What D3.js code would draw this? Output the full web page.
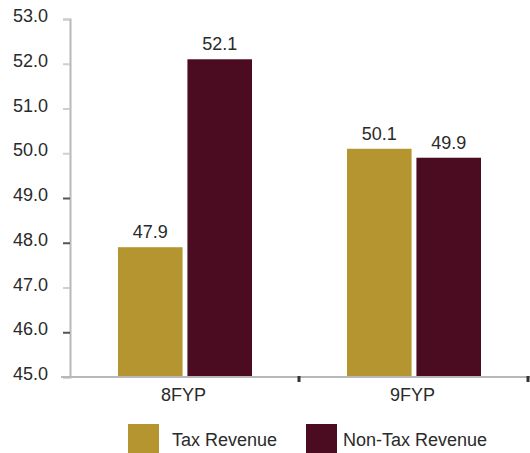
<!DOCTYPE html>
<html>
<head>
<meta charset="utf-8">
<script src="https://cdn.jsdelivr.net/npm/d3@7"></script>
<style>
  body { margin: 0; background: #fff; }
  svg { display: block; }
</style>
</head>
<body>
<svg id="chart" width="530" height="453"></svg>
<script>
const categories = ['8FYP', '9FYP']
const seriesNames = ['Tax Revenue', 'Non-Tax Revenue']
const taxRevenue = [47.9, 50.1]
const nonTaxRevenue = [52.1, 49.9]
const yTicks = [45, 46, 47, 48, 49, 50, 51, 52, 53]

const colors = ['#b4952f', '#4b0c21']
const width = 530
const height = 453
const margin = { top: 19, right: 2, bottom: 76, left: 70 }

const svg = d3.select('#chart')
const font = 'Liberation Sans, Arial, sans-serif'
const fontSize = 18
const textColor = '#2a2a2a'

const x = d3.scaleBand()
  .domain(categories)
  .range([margin.left, width - margin.right])

// bars inside each category band
const xSub = d3.scaleBand()
  .domain(seriesNames)
  .range([48, 182])
  .paddingInner(0.07)

const y = d3.scaleLinear()
  .domain([45, 53])
  .range([height - margin.bottom, margin.top])

const rows = categories.map((c, i) => ({
  cat: c,
  values: [taxRevenue[i], nonTaxRevenue[i]]
}))

// y axis
const yAxis = svg.append('g')
  .attr('transform', `translate(${margin.left},0)`)
  .call(d3.axisLeft(y).tickValues(yTicks).tickFormat(d3.format('.1f')).tickSize(7).tickPadding(15))
yAxis.select('.domain').attr('stroke', '#b8b8b8').attr('stroke-width', 2)
yAxis.selectAll('.tick line')
  .attr('stroke', d => (d === 49 || d === 48 || d === 46) ? '#555' : '#cfcfcf')
  .attr('stroke-width', 2)
yAxis.selectAll('.tick text')
  .attr('font-family', font).attr('font-size', fontSize).attr('fill', textColor)
  .attr('dy', '0.15em')

// bars
const group = svg.append('g')
  .selectAll('g')
  .data(rows)
  .join('g')
  .attr('transform', d => `translate(${x(d.cat)},0)`)

group.selectAll('rect')
  .data(d => d.values.map((v, i) => ({ name: seriesNames[i], value: v, i })))
  .join('rect')
  .attr('x', d => xSub(d.name))
  .attr('width', xSub.bandwidth())
  .attr('y', d => y(d.value))
  .attr('height', d => y(45) - y(d.value))
  .attr('fill', d => colors[d.i])

group.selectAll('text')
  .data(d => d.values.map((v, i) => ({ name: seriesNames[i], value: v })))
  .join('text')
  .attr('x', d => xSub(d.name) + xSub.bandwidth() / 2)
  .attr('y', d => y(d.value) - 9)
  .attr('text-anchor', 'middle')
  .attr('font-family', font)
  .attr('font-size', fontSize)
  .attr('fill', textColor)
  .text(d => d3.format('.1f')(d.value))

// x axis
const xAxisY = y(45)
svg.append('line')
  .attr('x1', margin.left - 9).attr('x2', width)
  .attr('y1', xAxisY).attr('y2', xAxisY)
  .attr('stroke', '#b8b8b8').attr('stroke-width', 2)

svg.append('g')
  .selectAll('line')
  .data(categories)
  .join('line')
  .attr('x1', d => x(d) + x.bandwidth())
  .attr('x2', d => x(d) + x.bandwidth())
  .attr('y1', xAxisY - 1).attr('y2', xAxisY + 5)
  .attr('stroke', '#333').attr('stroke-width', 3)

svg.append('g')
  .selectAll('text')
  .data(categories)
  .join('text')
  .attr('x', d => x(d) + x.bandwidth() / 2 - 1)
  .attr('y', xAxisY + 24)
  .attr('text-anchor', 'middle')
  .attr('font-family', font)
  .attr('font-size', fontSize)
  .attr('fill', textColor)
  .text(d => d)

// legend
const legendX = [128, 306]
const legend = svg.append('g')
  .selectAll('g')
  .data(seriesNames)
  .join('g')
  .attr('transform', (d, i) => `translate(${legendX[i]},424)`)

legend.append('rect')
  .attr('width', 31).attr('height', 29)
  .attr('fill', (d, i) => colors[i])

legend.append('text')
  .attr('x', (d, i) => i === 0 ? 44 : 37)
  .attr('y', 16)
  .attr('dy', '0.35em')
  .attr('font-family', font)
  .attr('font-size', fontSize)
  .attr('fill', textColor)
  .text(d => d)
</script>
</body>
</html>
